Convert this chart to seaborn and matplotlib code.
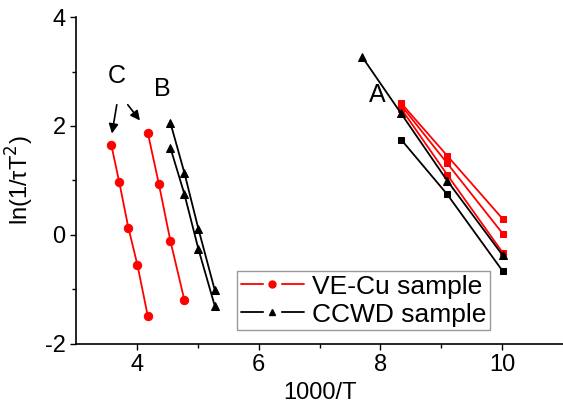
import matplotlib
matplotlib.use("Agg")
import matplotlib.pyplot as plt
import seaborn as sns
from matplotlib.lines import Line2D
from matplotlib.legend_handler import HandlerTuple

# ── Data ───────────────────────────────────────────────────
# group C (VE-Cu, circles)
c_x = [3.58, 3.71, 3.86, 4.01, 4.18]
c_y = [1.65, 0.97, 0.13, -0.56, -1.50]
# group B (VE-Cu circles, CCWD triangles)
b_red_x = [4.18, 4.36, 4.55, 4.78]
b_red_y = [1.87, 0.94, -0.11, -1.20]
b_tri_x = [4.55, 4.78, 5.01, 5.28]
b_tri1_y = [2.06, 1.14, 0.11, -1.02]
b_tri2_y = [1.60, 0.75, -0.26, -1.31]
# group A (squares, one triangle series)
a_x = [8.34, 9.10, 10.01]
a_red1_y = [2.42, 1.45, 0.29]
a_red2_y = [2.38, 1.31, 0.02]
a_red3_y = [2.32, 1.10, -0.33]
a_blk_y = [1.75, 0.74, -0.67]
a_tri_x = [7.70, 8.34, 9.10, 10.01]
a_tri_y = [3.27, 2.23, 0.99, -0.38]

RED = "#ff0000"
BLACK = "#000000"

sns.set_style("ticks")
plt.rcParams["font.family"] = ["Liberation Sans", "DejaVu Sans"]
plt.rcParams["axes.unicode_minus"] = False
plt.rcParams["text.color"] = "black"
plt.rcParams["axes.labelcolor"] = "black"
plt.rcParams["xtick.color"] = "black"
plt.rcParams["ytick.color"] = "black"
plt.rcParams["axes.edgecolor"] = "black"

fig = plt.figure(figsize=(5.63, 4.08), dpi=100)
ax = fig.add_axes([0.135, 0.158, 0.865, 0.8])


def draw(x, y, color, marker, ms):
    sns.lineplot(x=x, y=y, ax=ax, color=color, marker=marker, markersize=ms,
                 markeredgecolor=color, linewidth=1.3, sort=False,
                 estimator=None, legend=False)


# group A: black first, red on top, triangle series last
draw(a_x, a_blk_y, BLACK, "s", 5)
for ys in (a_red1_y, a_red2_y, a_red3_y):
    draw(a_x, ys, RED, "s", 5)
draw(a_tri_x, a_tri_y, BLACK, "^", 6)

# groups B and C
draw(c_x, c_y, RED, "o", 6)
draw(b_red_x, b_red_y, RED, "o", 6)
draw(b_tri_x, b_tri1_y, BLACK, "^", 6)
draw(b_tri_x, b_tri2_y, BLACK, "^", 6)

# letters and arrows
ax.text(3.67, 2.91, "C", fontsize=18, ha="center", va="center")
ax.text(4.42, 2.68, "B", fontsize=18, ha="center", va="center")
ax.text(7.95, 2.57, "A", fontsize=18, ha="center", va="center")
arrow = dict(arrowstyle="-|>", color="black", lw=1.2, mutation_scale=14,
             shrinkA=0, shrinkB=0)
ax.annotate("", xy=(3.59, 1.86), xytext=(3.67, 2.39), arrowprops=arrow)
ax.annotate("", xy=(4.05, 2.10), xytext=(3.85, 2.39), arrowprops=arrow)

ax.set_xlim(3, 11)
ax.set_ylim(-2, 4)
ax.set_xticks([4, 6, 8, 10])
ax.set_xticks([5, 7, 9], minor=True)
ax.set_yticks([-2, 0, 2, 4])
ax.set_yticks([-1, 1, 3], minor=True)
ax.tick_params(which="major", length=4, width=1, labelsize=17, direction="out")
ax.tick_params(which="minor", length=3, width=1, direction="out")
for s in ("left", "bottom"):
    ax.spines[s].set_linewidth(1.2)
sns.despine(ax=ax)

ax.set_xlabel("1000/T", fontsize=17, labelpad=4)
ax.set_ylabel("ln(1/τT$^2$)", fontsize=17, labelpad=6)


def legend_handle(color, marker):
    # line broken around the marker, as in the original
    return (Line2D([], [], color=color, lw=1.3),
            Line2D([], [], color="white", marker="s", markersize=12, ls=""),
            Line2D([], [], color=color, marker=marker, markersize=5, ls=""))


handles = [legend_handle(RED, "o"), legend_handle(BLACK, "^")]
leg = ax.legend(handles, ["VE-Cu sample", "CCWD sample"], loc="lower left",
                bbox_to_anchor=(0.33, 0.04), borderaxespad=0, fontsize=19,
                frameon=True, fancybox=False, framealpha=1, handlelength=2.4,
                handletextpad=0.3, borderpad=0.15, labelspacing=0.15,
                handler_map={tuple: HandlerTuple(ndivide=1)})
leg.get_frame().set_edgecolor("#999999")
leg.get_frame().set_linewidth(1.0)
leg.set_zorder(10)

fig.savefig("out.png", dpi=100)
